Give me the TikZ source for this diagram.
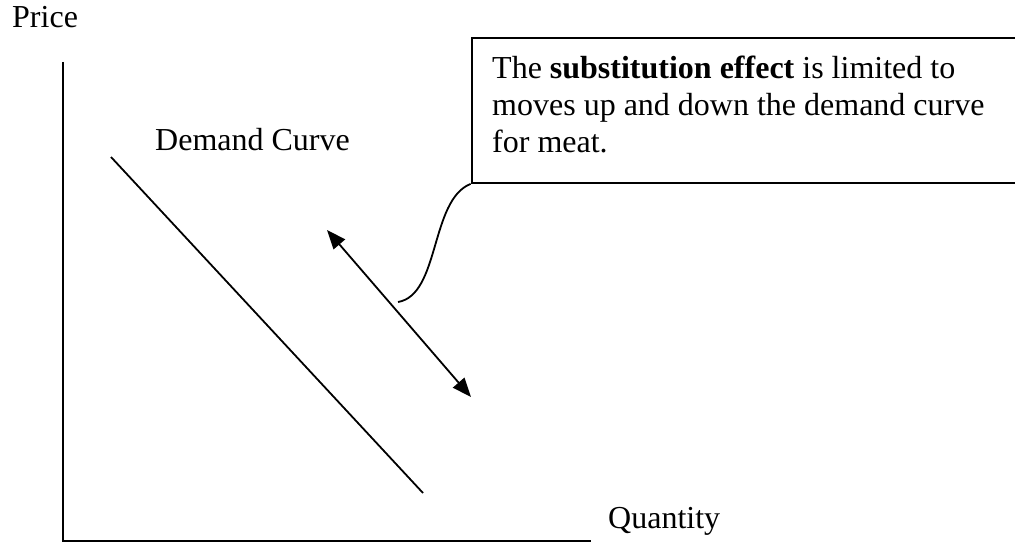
\documentclass[tikz,border=0pt]{standalone}
\usepackage{fontspec}
\setmainfont{Liberation Serif}
\usetikzlibrary{arrows.meta}
\begin{document}
\begin{tikzpicture}[x=1pt,y=-1pt,
  lbl/.style={anchor=base west,inner sep=0pt,font=\fontsize{32}{37}\selectfont},
  axis/.style={line width=2.2pt},
  thin/.style={line width=1.8pt},
  callbox/.style={draw,line width=1.9pt,anchor=north west,inner sep=0pt},
  dbl/.style={line width=1.8pt,{Triangle[length=19pt,width=15pt]}-{Triangle[length=19pt,width=15pt]}}]
\useasboundingbox (0,0) rectangle (1015,543);
% axes
\coordinate (ytop) at (63,62);
\coordinate (orig) at (63,541);
\coordinate (xend) at (591,541);
\draw[axis] (ytop) -- (orig) -- (xend);
% labels
\node[lbl] (price) at (12,28) {Price};
\node[lbl] (quantity) at (608,528) {Quantity};
\node[lbl] (dlabel) at (155,150) {Demand Curve};
% demand curve
\coordinate (d1) at (111,157);
\coordinate (d2) at (423,493);
\draw[thin] (d1) -- (d2);
% double arrow
\coordinate (a1) at (327,230);
\coordinate (a2) at (471,397);
\draw[dbl] (a1) -- (a2);
% callout box
\node[callbox,minimum width=560pt,minimum height=145pt] (box) at (470.6,37) {};
\node[lbl,align=left,anchor=north west] (btext) at (492,55.5)
  {The \textbf{substitution effect} is limited to\\moves up and down the demand curve\\for meat.};
\coordinate (ctip) at (398,302);
\draw[thin] (box.south west) .. controls (430,200) and (440,295) .. (ctip);
\end{tikzpicture}
\end{document}
